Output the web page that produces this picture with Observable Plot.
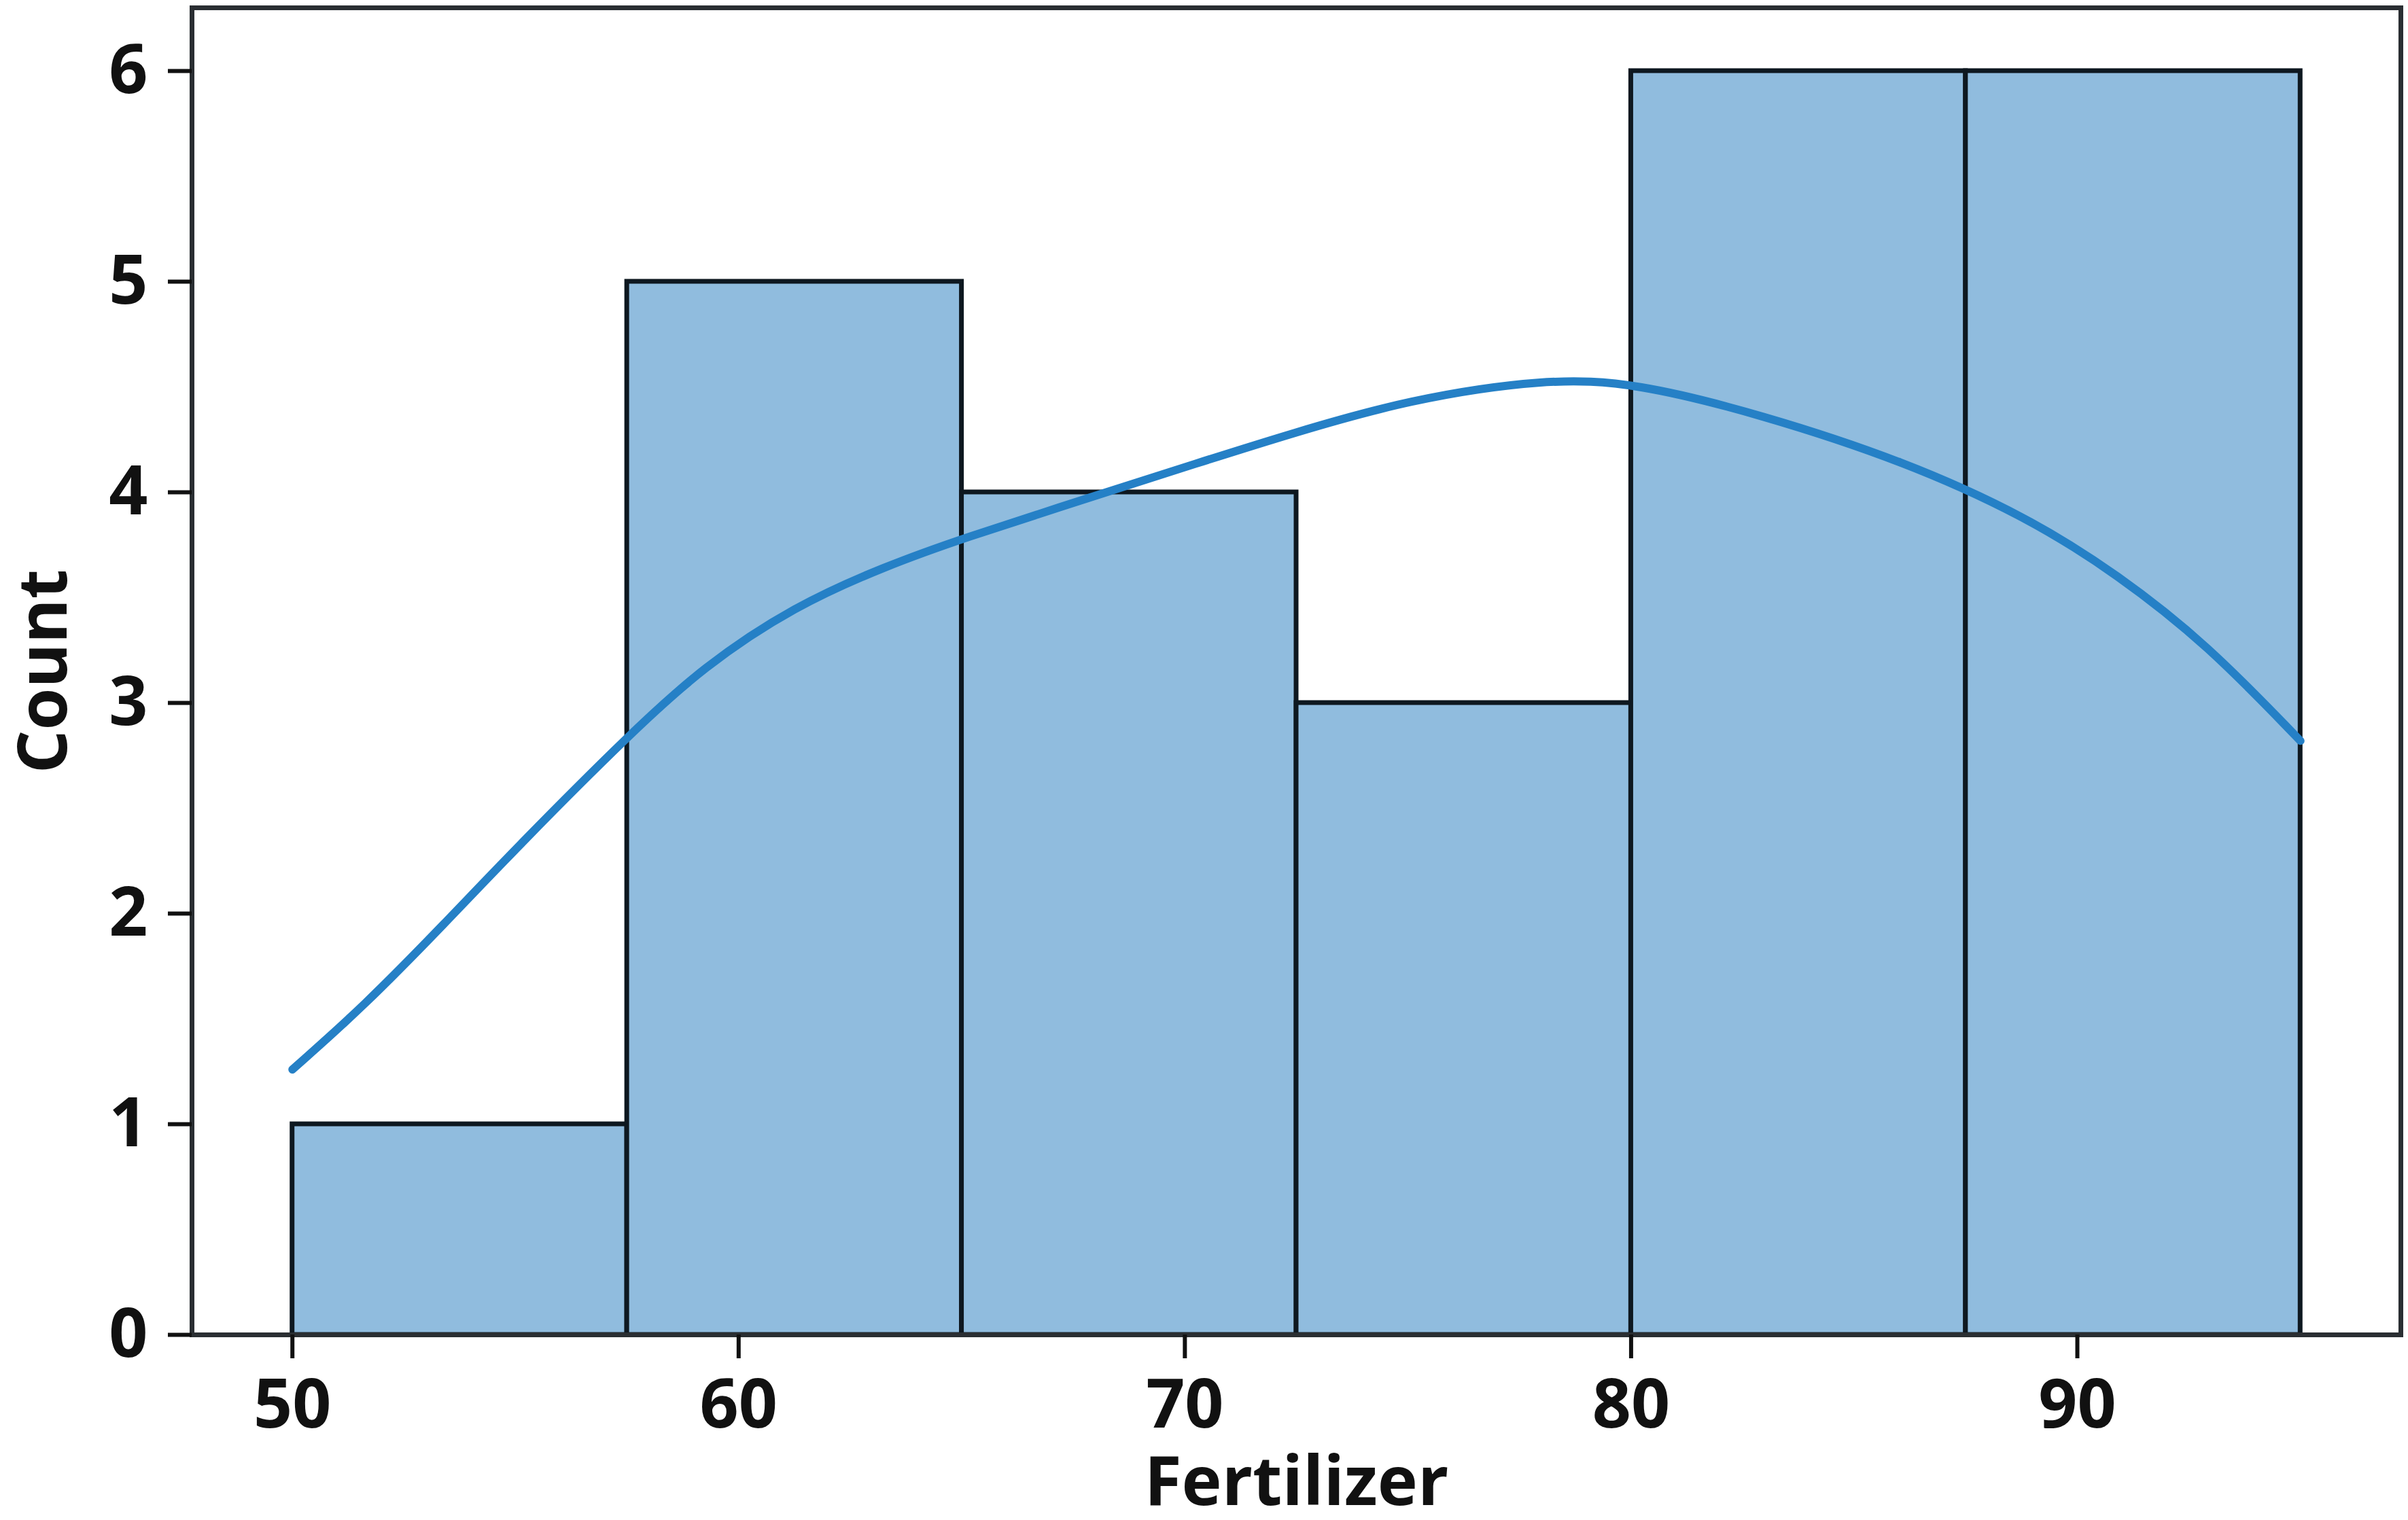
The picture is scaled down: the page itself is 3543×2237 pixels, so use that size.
<!DOCTYPE html>
<html>
<head>
<meta charset="utf-8">
<script src="https://cdn.jsdelivr.net/npm/d3@7"></script>
<script src="https://cdn.jsdelivr.net/npm/@observablehq/plot@0.6"></script>
<style>
  html, body { margin: 0; padding: 0; background: white; }
</style>
</head>
<body>
<div id="chart"></div>
<script>
// Histogram bins (Fertilizer) and counts
const binStarts = [50, 57.5, 65, 72.5, 80, 87.5];
const binEnds   = [57.5, 65, 72.5, 80, 87.5, 95];
const counts    = [1, 5, 4, 3, 6, 6];

// KDE curve (scaled to counts)
const kdeX = [50, 51.6, 53.4, 55.1, 57.6, 59.2, 61.25, 63.3, 65, 67.8, 70.3, 72.4, 75.0, 78.1, 80.1, 82.9, 86.1, 88.9, 90.9, 92.9, 95];
const kdeY = [1.26, 1.56, 1.95, 2.33, 2.86, 3.17, 3.46, 3.65, 3.78, 3.97, 4.14, 4.28, 4.44, 4.54, 4.52, 4.37, 4.15, 3.88, 3.61, 3.28, 2.82];

// Tick values
const xTicks = [50, 60, 70, 80, 90];
const yTicks = [0, 1, 2, 3, 4, 5, 6];

const bins = binStarts.map((x0, i) => ({x0, x1: binEnds[i], count: counts[i]}));
const kde = kdeX.map((x, i) => ({x, y: kdeY[i]}));

const plot = Plot.plot({
  width: 3543,
  height: 2237,
  marginLeft: 282,
  marginRight: 11,
  marginTop: 11,
  marginBottom: 273,
  style: {
    fontFamily: "'Open Sans', sans-serif",
    fontSize: "100px",
    fontWeight: 700,
    color: "#111",
    background: "white"
  },
  x: {domain: [47.75, 97.25]},
  y: {domain: [0, 6.3]},
  marks: [
    Plot.rectY(bins, {x1: "x0", x2: "x1", y: "count", fill: "#90bcde", stroke: "#0e1820", strokeWidth: 7, insetLeft: 0, insetRight: 0}),
    Plot.line(kde, {x: "x", y: "y", stroke: "#2580c6", strokeWidth: 12, curve: "basis"}),
    Plot.frame({stroke: "#2a2e32", strokeWidth: 7}),
    Plot.axisX({ticks: xTicks, tickFormat: "d", tickSize: 35, tickPadding: 30, strokeWidth: 6, label: "Fertilizer", labelAnchor: "center", labelOffset: 250, labelArrow: "none"}),
    Plot.axisY({ticks: yTicks, tickFormat: "d", tickSize: 35, tickPadding: 30, strokeWidth: 6, label: "Count", labelAnchor: "center", labelOffset: 256, labelArrow: "none"})
  ]
});
document.getElementById("chart").appendChild(plot);
</script>
</body>
</html>
